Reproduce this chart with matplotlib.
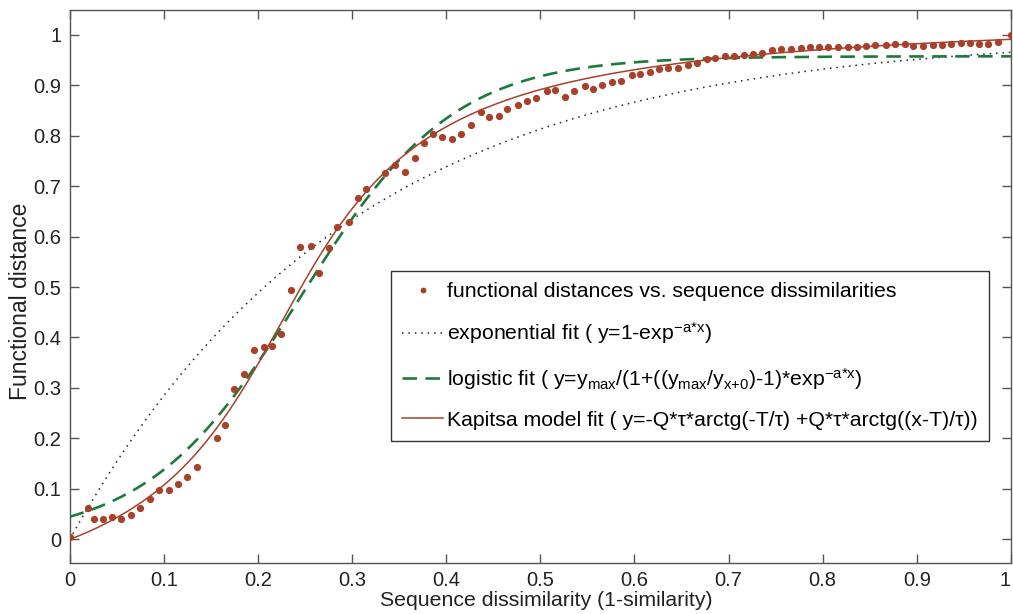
import numpy as np
import matplotlib
matplotlib.use('Agg')
import matplotlib.pyplot as plt

plt.rcParams['font.family'] = ['Liberation Sans', 'DejaVu Sans']
plt.rcParams['mathtext.default'] = 'regular'

# measured points: functional distance vs. sequence dissimilarity
seq_dissim = [0.0, 0.019, 0.026, 0.035, 0.045, 0.055, 0.065, 0.075, 0.085, 0.095,
              0.105, 0.115, 0.125, 0.135, 0.156, 0.165, 0.175, 0.185, 0.196, 0.206,
              0.215, 0.225, 0.235, 0.245, 0.256, 0.265, 0.276, 0.284, 0.297, 0.306,
              0.315, 0.335, 0.346, 0.356, 0.367, 0.376, 0.386, 0.396, 0.406, 0.416,
              0.426, 0.437, 0.445, 0.456, 0.465, 0.476, 0.486, 0.495, 0.507, 0.516,
              0.526, 0.536, 0.547, 0.556, 0.566, 0.576, 0.586, 0.597, 0.606, 0.616,
              0.626, 0.636, 0.646, 0.657, 0.666, 0.677, 0.686, 0.696, 0.706, 0.716,
              0.726, 0.736, 0.746, 0.756, 0.766, 0.777, 0.787, 0.796, 0.806, 0.816,
              0.827, 0.836, 0.846, 0.856, 0.867, 0.877, 0.887, 0.896, 0.907, 0.917,
              0.927, 0.936, 0.947, 0.956, 0.966, 0.976, 0.986, 1.0]
func_dist = [0.004, 0.062, 0.040, 0.040, 0.044, 0.040, 0.048, 0.063, 0.081, 0.097,
             0.098, 0.110, 0.124, 0.143, 0.201, 0.226, 0.297, 0.328, 0.375, 0.382,
             0.384, 0.407, 0.495, 0.580, 0.581, 0.527, 0.578, 0.619, 0.629, 0.676,
             0.694, 0.726, 0.742, 0.728, 0.755, 0.785, 0.803, 0.797, 0.793, 0.803,
             0.821, 0.847, 0.837, 0.839, 0.852, 0.861, 0.868, 0.875, 0.889, 0.891,
             0.876, 0.888, 0.899, 0.893, 0.901, 0.907, 0.909, 0.920, 0.921, 0.926,
             0.932, 0.934, 0.933, 0.939, 0.944, 0.951, 0.954, 0.958, 0.958, 0.960,
             0.962, 0.964, 0.969, 0.971, 0.971, 0.974, 0.975, 0.975, 0.975, 0.975,
             0.975, 0.975, 0.977, 0.980, 0.980, 0.981, 0.981, 0.977, 0.977, 0.980,
             0.980, 0.982, 0.984, 0.984, 0.981, 0.982, 0.985, 1.0]

# fitted model parameters
exp_a = 3.35
log_ymax = 0.957
log_y0 = 0.045
log_a = 12.3
kap_T = 0.225
kap_tau = 0.117
kap_Q = 3.37

labels = [
    'functional distances vs. sequence dissimilarities',
    r'exponential fit ( y=1-exp$^{-a{*}x}$)',
    r'logistic fit ( y=y$_{max}$/(1+((y$_{max}$/y$_{x{+}0}$)-1)*exp$^{-a{*}x}$)',
    'Kapitsa model fit ( y=-Q*\u03c4*arctg(-T/\u03c4) +Q*\u03c4*arctg((x-T)/\u03c4))',
]

red = '#A8402A'
green = '#1E7A3C'

xs = np.linspace(0, 1, 500)
y_exp = 1 - np.exp(-exp_a * xs)
y_log = log_ymax / (1 + (log_ymax / log_y0 - 1) * np.exp(-log_a * xs))
y_kap = -kap_Q * kap_tau * np.arctan(-kap_T / kap_tau) + kap_Q * kap_tau * np.arctan((xs - kap_T) / kap_tau)

fig = plt.figure(figsize=(10.13, 6.14), dpi=100)
ax = fig.add_axes([0.0688, 0.0836, 0.9292, 0.9004])

h1, = ax.plot(seq_dissim, func_dist, 'o', color=red, markersize=5.2, markeredgewidth=0, zorder=4)
h2, = ax.plot(xs, y_exp, color='#222222', lw=1.1, linestyle=(0, (1, 3.2)), zorder=2)
h3, = ax.plot(xs, y_log, color=green, lw=1.9, linestyle=(0, (5.5, 3.2)), zorder=3)
h4, = ax.plot(xs, y_kap, color=red, lw=1.1, zorder=3)

ticks = np.arange(0, 1.01, 0.1)
ax.set_xlim(0, 1)
ax.set_ylim(-0.046, 1.049)
ax.set_xticks(ticks)
ax.set_yticks(ticks)
ax.set_xticklabels(['%g' % round(t, 1) for t in ticks])
ax.set_yticklabels(['%g' % round(t, 1) for t in ticks])
ax.tick_params(direction='in', length=6.5, width=1, color='#555555',
               labelsize=14.5, labelcolor='#222222', top=True, right=True, pad=6)
# last x label sits against the figure edge
ax.get_xticklabels()[-1].set_horizontalalignment('right')
for s in ax.spines.values():
    s.set_color('#555555')
    s.set_linewidth(1)

ax.set_xlabel('Sequence dissimilarity (1-similarity)', fontsize=15.3, color='#222222')
ax.xaxis.set_label_coords(0.506, -0.052)
ax.set_ylabel('Functional distance', fontsize=16.5, color='#222222')
ax.yaxis.set_label_coords(-0.040, 0.473)

leg = ax.legend([h1, h2, h3, h4], labels, loc='upper left', bbox_to_anchor=(0.341, 0.528),
                fontsize=15.3, frameon=True, fancybox=False, framealpha=1,
                handlelength=1.9, handletextpad=0.2, labelspacing=0.9,
                borderpad=0.55, borderaxespad=0, markerscale=0.8)
leg.get_frame().set_edgecolor('#333333')
leg.get_frame().set_linewidth(1)

fig.savefig('out.png', dpi=100)
